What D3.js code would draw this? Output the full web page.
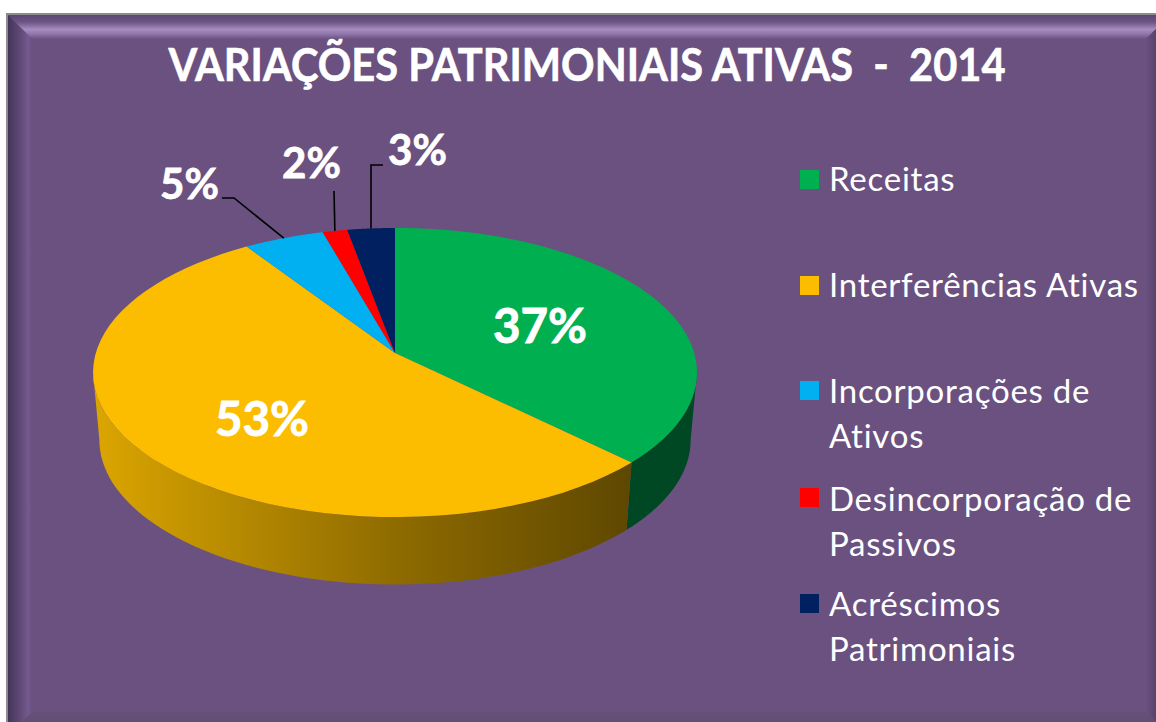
<!DOCTYPE html>
<html><head><meta charset="utf-8">
<script src="https://cdn.jsdelivr.net/npm/d3@7/dist/d3.min.js"></script>
<style>html,body{margin:0;padding:0;background:#fff;overflow:hidden}svg{display:block}text{font-family:Lato,"Open Sans",sans-serif;fill:#fff}</style>
</head><body><svg id="c" width="1156" height="722"></svg>
<script>
const titleText = "VARIAÇÕES PATRIMONIAIS ATIVAS  -  2014";
const categories = ["Receitas","Interferências Ativas","Incorporações de Ativos","Desincorporação de Passivos","Acréscimos Patrimoniais"];
const legendLines = [["Receitas"],["Interferências Ativas"],["Incorporações de","Ativos"],["Desincorporação de","Passivos"],["Acréscimos","Patrimoniais"]];
const values = [37.3,53.4,4.9,1.5,2.9];
const colors = ["#00b050","#fcbd00","#00b0f0","#ff0000","#002060"];

const svg = d3.select("#c"), W=1156, H=722;
const defs = svg.append("defs");
function grad(id,x1,y1,x2,y2,stops){
  const g=defs.append("linearGradient").attr("id",id).attr("gradientUnits","userSpaceOnUse")
    .attr("x1",x1).attr("y1",y1).attr("x2",x2).attr("y2",y2);
  stops.forEach(s=>g.append("stop").attr("offset",s[0]).attr("stop-color",s[1]));
}
// frame with bevel
const L=8,T=15,R=1170,B=736,BW=24;
grad("gT",0,T,0,T+BW,[[0,"#5b4773"],[.3,"#6d5585"],[.6,"#a68cc0"],[.8,"#8f76aa"],[1,"#6a5180"]]);
grad("gL",L,0,L+BW,0,[[0,"#45355a"],[.4,"#5a4570"],[.85,"#745a8e"],[1,"#6a5180"]]);
grad("gR",R-BW,0,R,0,[[0,"#6a5180"],[.35,"#5a4570"],[1,"#4a3860"]]);
grad("gB",0,B-BW,0,B,[[0,"#655079"],[1,"#5f5070"]]);
svg.append("rect").attr("x",6).attr("y",13).attr("width",W).attr("height",H).attr("fill","#8c8c8c");
svg.append("rect").attr("x",L).attr("y",T).attr("width",W).attr("height",H).attr("fill","#6a5180");
const poly=(pts,fill)=>svg.append("polygon").attr("points",pts.map(p=>p.join(",")).join(" ")).attr("fill",fill);
poly([[L,T],[R,T],[R-BW,T+BW],[L+BW,T+BW]],"url(#gT)");
poly([[L,T],[L+BW,T+BW],[L+BW,B-BW],[L,B]],"url(#gL)");
poly([[R,T],[R,B],[R-BW,B-BW],[R-BW,T+BW]],"url(#gR)");
poly([[L,B],[L+BW,B-BW],[R-BW,B-BW],[R,B]],"url(#gB)");

// title
svg.append("text").attr("x",587).attr("y",81).attr("text-anchor","middle")
  .attr("font-size",45).attr("font-weight",700).style("white-space","pre")
  .attr("stroke","#fff").attr("stroke-width",0.6)
  .attr("textLength",837).attr("lengthAdjust","spacingAndGlyphs").text(titleText);

// projected pie
const cx=395,cy=353,k=0.135,a=299.2,b=141.9,depth=67.5,shrink=0.979;
const scaleX=d3.scaleLinear().domain([-1,1]).range([cx-a,cx+a]);
const scaleY=d3.scaleLinear().domain([-1,1]).range([cy+b,cy-b]);
const upper=t=>{const u=Math.sin(t),v=Math.cos(t),w=1+k*v;return [scaleX(u/w),scaleY(v/w)];};
const lower=t=>{const p=upper(t);return [cx+(p[0]-cx)*shrink,p[1]+depth];};
const arcs=d3.pie().sort(null).value(d=>d)(values);
const line=d3.line();
const samp=(a0,a1,f)=>d3.range(0,61).map(i=>f(a0+(a1-a0)*i/60));
const tMax=Math.acos(-k),tMin=2*Math.PI-tMax;

grad("sideY",93,0,632,0,[[0,"#dca600"],[.25,"#b88b00"],[.6,"#8a6800"],[1,"#5e4700"]]);
const sideFill=["#004824","url(#sideY)","#00b0f0","#ff0000","#002060"];
arcs.forEach((d,i)=>{
  const a0=Math.max(d.startAngle,tMax),a1=Math.min(d.endAngle,tMin);
  if(a1<=a0) return;
  const pts=samp(a0,a1,upper).concat(samp(a1,a0,lower));
  svg.append("path").attr("d",line(pts)+"Z").attr("fill",sideFill[i]);
});
arcs.forEach((d,i)=>{
  const pts=[[cx,cy]].concat(samp(d.startAngle,d.endAngle,upper));
  svg.append("path").attr("d",line(pts)+"Z").attr("fill",colors[i]);
});

// leader lines, anchored on the rim of each small slice
const leaders={2:[[234,198],[222,198]],3:[[334,191]],4:[[371,165],[383,165]]};
Object.keys(leaders).forEach(i=>{
  const d=arcs[i],p=upper((d.startAngle+d.endAngle)/2);
  svg.append("path").attr("d",line([p].concat(leaders[i]))).attr("fill","none").attr("stroke","#000").attr("stroke-width",1.6);
});
// data labels
const labelPos=[[540,343],[262,436],[189.5,199],[311.5,178],[417.5,165]], labelSize=[47.5,47.5,42,42,42];
arcs.forEach((d,i)=>{
  svg.append("text").attr("x",labelPos[i][0]).attr("y",labelPos[i][1]).attr("text-anchor","middle")
    .attr("stroke","#fff").attr("stroke-width",0.8)
    .attr("font-size",labelSize[i]).attr("font-weight",700).text(Math.round(d.data)+"%");
});
// legend
const legendY=[191,297,403,511,616], swatchY=[170,276,381,488,594];
categories.forEach((c,i)=>{
  svg.append("rect").attr("x",800).attr("y",swatchY[i]).attr("width",19).attr("height",19).attr("fill",colors[i]);
  legendLines[i].forEach((l,j)=>svg.append("text").attr("x",829).attr("y",legendY[i]+j*45).attr("font-size",33).attr("letter-spacing",0.75).text(l));
});
</script></body></html>
